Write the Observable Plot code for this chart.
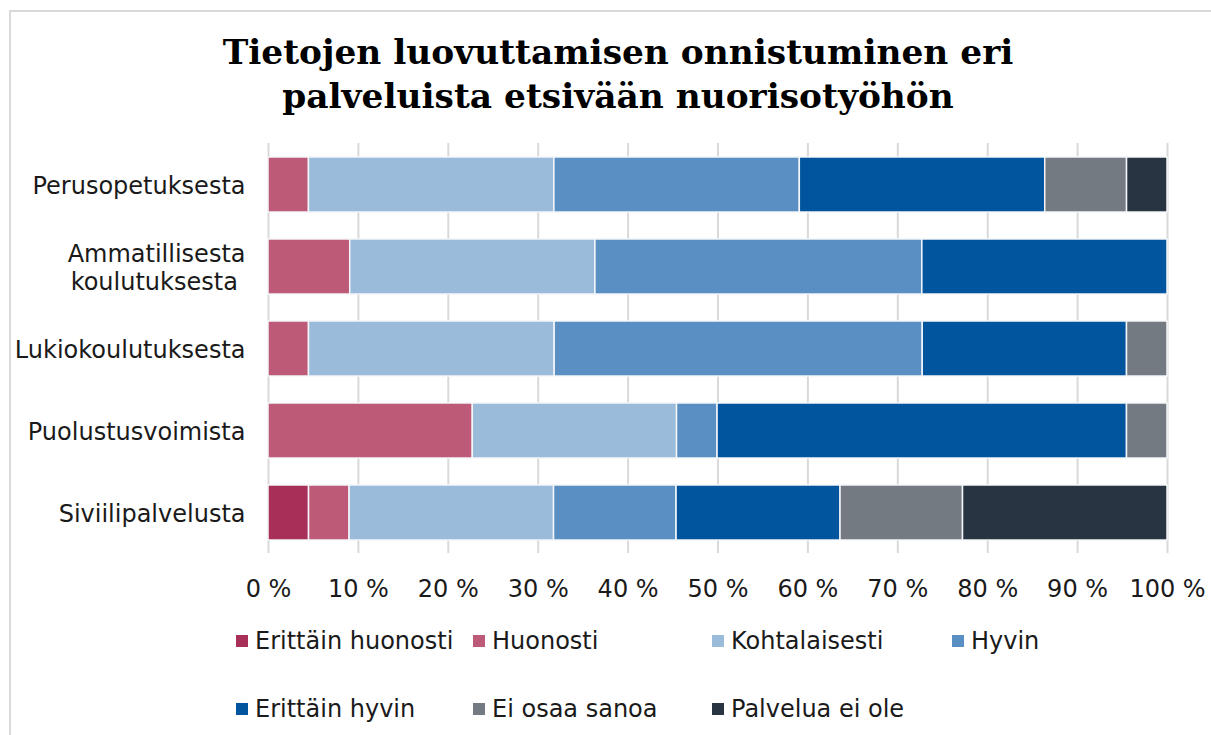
<!DOCTYPE html>
<html>
<head>
<meta charset="utf-8">
<script src="https://cdn.jsdelivr.net/npm/d3@7"></script>
<script src="https://cdn.jsdelivr.net/npm/@observablehq/plot@0.6"></script>
<style>
  html, body { margin: 0; padding: 0; background: #fff; }
  #wrap { position: relative; width: 1211px; height: 735px; overflow: hidden; font-family: "DejaVu Sans", Verdana, sans-serif; }
  #frame { position: absolute; left: 9px; top: 10px; width: 1300px; height: 900px; border-left: 2px solid #d9d9d9; border-top: 2px solid #d9d9d9; }
  #chart { position: absolute; left: 0; top: 0; }
  #title { position: absolute; left: 0; top: 0; }
  .leg { position: absolute; display: flex; align-items: center; font-size: 24px; color: #1a1a1a; white-space: nowrap; }
  .sw { width: 12px; height: 12px; margin-right: 7px; }
</style>
</head>
<body>
<div id="wrap">
  <div id="frame"></div>
  <div id="chart"></div>
  <svg id="title" width="1211" height="130"></svg>
  <div id="legend"></div>
</div>
<script>
const titleLines = ["Tietojen luovuttamisen onnistuminen eri", "palveluista etsivään nuorisotyöhön"];
const categories = ["Perusopetuksesta", "Ammatillisesta koulutuksesta", "Lukiokoulutuksesta", "Puolustusvoimista", "Siviilipalvelusta"];
const categoryLabels = ["Perusopetuksesta", "Ammatillisesta\nkoulutuksesta ", "Lukiokoulutuksesta", "Puolustusvoimista", "Siviilipalvelusta"];
const levels = ["Erittäin huonosti", "Huonosti", "Kohtalaisesti", "Hyvin", "Erittäin hyvin", "Ei osaa sanoa", "Palvelua ei ole"];
const colors = ["#a83058", "#bc5a78", "#9bbbda", "#5a8fc3", "#00559e", "#737a82", "#283442"];

// percentages per category (same order as categories)
const erittainHuonosti = [0, 0, 0, 0, 4.5];
const huonosti = [4.5, 9.1, 4.5, 22.7, 4.5];
const kohtalaisesti = [27.3, 27.3, 27.3, 22.7, 22.7];
const hyvin = [27.3, 36.4, 40.9, 4.5, 13.6];
const erittainHyvin = [27.3, 27.3, 22.7, 45.5, 18.2];
const eiOsaaSanoa = [9.1, 0, 4.5, 4.5, 13.6];
const palveluaEiOle = [4.5, 0, 0, 0, 22.7];
const xTicks = [0, 10, 20, 30, 40, 50, 60, 70, 80, 90, 100];

const series = [erittainHuonosti, huonosti, kohtalaisesti, hyvin, erittainHyvin, eiOsaaSanoa, palveluaEiOle];
const rows = [];
categories.forEach((c, i) => {
  levels.forEach((l, j) => {
    rows.push({category: c, level: l, value: series[j][i]});
  });
});
const labelOf = new Map(categories.map((c, i) => [c, categoryLabels[i]]));

const chart = Plot.plot({
  width: 1211,
  height: 600,
  marginLeft: 268,
  marginRight: 44,
  marginTop: 143,
  marginBottom: 47,
  style: {fontFamily: "'DejaVu Sans', Verdana, sans-serif", fontSize: "24px", color: "#1a1a1a", background: "transparent", overflow: "visible"},
  x: {domain: [0, 1], axis: null, label: null},
  y: {domain: categories, paddingInner: 0.33, paddingOuter: 0.165, axis: null, label: null},
  color: {domain: levels, range: colors},
  marks: [
    Plot.ruleX(xTicks, {x: d => d / 100, stroke: "#d9d9d9", strokeWidth: 2}),
    Plot.barX(rows, Plot.stackX({
      x: "value", y: "category", z: "level", fill: "level",
      order: levels, offset: "normalize",
      stroke: "#f4f6f9", strokeWidth: 1.5
    })),
    Plot.axisX(xTicks.map(d => d / 100), {
      tickSize: 0, tickPadding: 26, fontSize: 24, label: null,
      tickFormat: d => Math.round(d * 100) + " %"
    }),
    Plot.axisY({
      tickSize: 0, tickPadding: 23, fontSize: 24, lineHeight: 1.18, label: null,
      tickFormat: d => labelOf.get(d)
    })
  ]
});
document.getElementById("chart").appendChild(chart);

// Title
const tsvg = d3.select("#title");
const targetWidth = 791;
const canvas = document.createElement("canvas");
const ctx = canvas.getContext("2d");
ctx.font = "bold 40px 'DejaVu Serif'";
const measured = ctx.measureText(titleLines[0]).width;
const titleSize = Math.min(40, 40 * targetWidth / measured);
tsvg.selectAll("text").data(titleLines).join("text")
  .attr("x", 618)
  .attr("y", (d, i) => 64 + i * 44)
  .attr("text-anchor", "middle")
  .attr("font-family", "'DejaVu Serif', 'Liberation Serif', serif")
  .attr("font-weight", "bold")
  .attr("font-size", titleSize)
  .attr("fill", "#000")
  .text(d => d);

// Legend
const legend = document.getElementById("legend");
const legX = [236, 473, 712, 952];
const legY = [641, 709];
levels.forEach((l, i) => {
  const div = document.createElement("div");
  div.className = "leg";
  div.style.left = legX[i % 4] + "px";
  div.style.top = (legY[Math.floor(i / 4)] - 14) + "px";
  div.style.height = "28px";
  const sw = document.createElement("div");
  sw.className = "sw";
  sw.style.background = colors[i];
  const t = document.createElement("span");
  t.textContent = l;
  div.appendChild(sw);
  div.appendChild(t);
  legend.appendChild(div);
});
</script>
</body>
</html>
